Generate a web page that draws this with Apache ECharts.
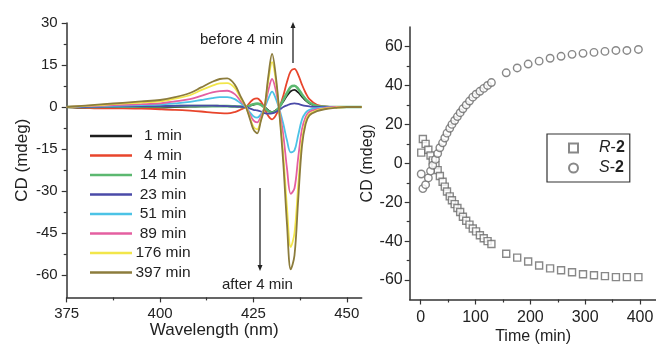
<!DOCTYPE html>
<html>
<head>
<meta charset="utf-8">
<script src="https://cdn.jsdelivr.net/npm/echarts@6/dist/echarts.min.js"></script>
<style>
html,body{margin:0;padding:0;background:#fff;}
#c{width:656px;height:345px;}
</style>
</head>
<body>
<div id="c"></div>
<script>
// ---------- Data: left panel (CD spectra) ----------
const wavelength = [375, 380, 385, 390, 395, 400, 404, 408, 411, 414, 416, 418, 420, 421.5, 423, 424, 425, 426, 427, 428, 429, 430, 431, 432, 433, 434, 435, 436, 437, 438, 439, 440, 442, 444, 447, 450, 454];
const cd1   = [0, -0.3, 0.2, -0.4, 0, -0.2, 0, 0.1, 0.2, 0.3, 0.3, 0.3, 0.2, 0.1, 0, 0.4, 0.8, 1.1, 1, 0, -1.2, -1.8, -1.2, 0, 2, 4, 5.6, 6.1, 5.2, 3.7, 2.3, 1.3, 0.3, 0.1, 0, 0, 0];
const cd4   = [0, -0.3, -0.5, -0.5, -0.6, -0.8, -1, -1.3, -1.6, -2, -2.2, -2.3, -1.8, -1, 0, 1.5, 2.8, 3.1, 2, -0.5, -3.2, -4.4, -3, 0, 4, 9, 12.8, 13.6, 11.5, 8, 5, 2.8, 0.8, 0.2, 0, 0, 0];
const cd14  = [0, 0, 0.1, 0.1, 0.2, 0.2, 0.3, 0.3, 0.3, 0.3, 0.3, 0.3, 0.2, 0.1, 0, 0.5, 1, 1.2, 0.8, -0.3, -1.5, -2, -1.4, 0, 2.5, 5, 7.2, 7.6, 6.5, 4.5, 2.8, 1.6, 0.4, 0.1, 0, 0, 0];
const cd23  = [0, 0, 0.1, 0.2, 0.3, 0.3, 0.4, 0.5, 0.5, 0.5, 0.4, 0.3, 0.2, 0.1, 0, -0.5, -1, -1.2, -1.6, -2.2, -2.4, -2.3, -1.8, -1, 0, 0.6, 1.1, 1.3, 1.1, 0.7, 0.4, 0.2, 0, 0, 0, 0, 0];
const cd51  = [0, 0.2, 0.3, 0.5, 0.7, 0.9, 1.3, 1.8, 2.5, 3.2, 3.5, 3.5, 2.8, 1.4, 0, -1.8, -3.3, -3.8, -2.6, -0.3, 3, 5.5, 3, -1, -6, -12, -16.2, -15.5, -10, -4.5, -2, -1, -0.4, -0.2, 0, 0, 0];
const cd89  = [0, 0.3, 0.5, 0.8, 1, 1.3, 2, 2.8, 4, 5.2, 5.7, 5.8, 4.6, 2.3, 0, -2.5, -4.8, -5.5, -3.5, 0, 6, 10, 6, -1.5, -10, -22, -31, -29, -18, -8, -3.5, -1.7, -0.8, -0.4, 0, 0, 0];
const cd176 = [0, 0.4, 0.8, 1.2, 1.6, 2, 3, 4.2, 6, 7.6, 8.4, 8.5, 6.8, 3.4, 0, -3.5, -7, -8, -4.5, 0, 9.5, 16, 9.5, -2.5, -17, -36, -50, -45, -28, -12, -5, -2.5, -1.2, -0.6, -0.2, 0, 0];
const cd397 = [0, 0.5, 1, 1.5, 2, 2.5, 3.5, 5, 7, 9, 10, 10.2, 8, 4, 0, -4, -8, -9.4, -5, 0, 11, 19, 11, -3, -20, -42, -58, -53, -33, -14, -6, -3, -1.5, -0.8, -0.3, 0, 0];
const spectraNames = ['1 min', '4 min', '14 min', '23 min', '51 min', '89 min', '176 min', '397 min'];

// ---------- Data: right panel (CD vs time) ----------
const timeMin = [1, 4, 9, 14, 18, 22, 27, 31, 35, 40, 44, 48, 53, 57, 62, 67, 72, 77, 83, 89, 95, 101, 108, 115, 122, 129, 156, 176, 196, 216, 236, 256, 276, 296, 316, 336, 356, 376, 397];
const cdR2 = [5.5, 12.5, 10, 7, 4, 1.5, -1, -3.5, -6.5, -9.5, -12, -14.5, -17, -19, -21, -23, -25, -27.5, -29.5, -31.5, -33.5, -35, -37, -38.5, -40, -41.5, -46.5, -48.5, -50.5, -52.5, -54, -55, -56, -57, -57.5, -58, -58.5, -58.5, -58.5];
const cdS2 = [-5.5, -13, -11, -7.5, -4, -1, 2, 5, 8, 10.5, 13, 15.5, 18, 20, 22, 24, 26, 28, 30, 32, 34, 35.5, 37, 38.5, 40, 41.5, 46.5, 49, 51, 52.5, 54, 55, 56, 56.5, 57, 57.5, 58, 58, 58.5];

// ---------- Tick values ----------
const leftXTicks = [375, 400, 425, 450];
const leftXMinor = [387.5, 412.5, 437.5];
const leftYTicks = [-60, -45, -30, -15, 0, 15, 30];
const leftYMinor = [-52.5, -37.5, -22.5, -7.5, 7.5, 22.5];
const rightXTicks = [0, 100, 200, 300, 400];
const rightXMinor = [50, 150, 250, 350];
const rightYTicks = [-60, -40, -20, 0, 20, 40, 60];
const rightYMinor = [-50, -30, -10, 10, 30, 50];

const colors = ['#1e1e1e', '#e8452c', '#5cb870', '#4a4aa8', '#4cc3e6', '#e45fa0', '#f2e64a', '#8c7c3c'];
const FONT = 'Liberation Sans, Arial, sans-serif';
const AX = '#333';

function spectraSeries(name, data, i) {
  return {
    name: name, type: 'line', xAxisIndex: 0, yAxisIndex: 0,
    data: wavelength.map((w, k) => [w, data[k]]),
    smooth: 0.35, symbol: 'none',
    lineStyle: { color: colors[i], width: i === 2 ? 2.6 : 1.8 },
    itemStyle: { color: colors[i] }, z: 2 + i
  };
}
const spectraData = [cd1, cd4, cd14, cd23, cd51, cd89, cd176, cd397];

function mainAxisCommon(fs) {
  return {
    nameMoveOverlap: false,
    axisLine: { onZero: false, lineStyle: { color: AX, width: 1.5 } },
    axisTick: { show: true, length: 5, inside: false, lineStyle: { color: AX, width: 1.2 } },
    axisLabel: { color: '#222', fontSize: fs, fontFamily: FONT },
    splitLine: { show: false },
    nameTextStyle: { color: '#222', fontFamily: FONT }
  };
}
function minorAxis(type, grid, min, max, vals, pos) {
  return {
    type: 'value', gridIndex: grid, min: min, max: max, position: pos,
    axisLine: { show: false, onZero: false },
    axisTick: { show: true, length: 3, customValues: vals, lineStyle: { color: AX, width: 1.2 } },
    axisLabel: { show: false }, splitLine: { show: false }
  };
}

const chart = echarts.init(document.getElementById('c'), null, { renderer: 'canvas' });
const xa0 = Object.assign(mainAxisCommon(15), {
  type: 'value', gridIndex: 0, min: 375, max: 454, position: 'bottom',
  name: 'Wavelength (nm)', nameLocation: 'middle', nameGap: 24
});
xa0.axisTick.customValues = leftXTicks; xa0.axisLabel.customValues = leftXTicks; xa0.axisLabel.margin = 9;
xa0.nameTextStyle.fontSize = 17;
const ya0 = Object.assign(mainAxisCommon(15), {
  type: 'value', gridIndex: 0, min: -68, max: 30, position: 'left',
  name: 'CD (mdeg)', nameLocation: 'middle', nameGap: 36
});
ya0.axisTick.customValues = leftYTicks; ya0.axisLabel.customValues = leftYTicks; ya0.axisLabel.margin = 9;
ya0.nameTextStyle.fontSize = 17;
const xa1 = Object.assign(mainAxisCommon(16), {
  type: 'value', gridIndex: 1, min: -20, max: 430, position: 'bottom',
  name: 'Time (min)', nameLocation: 'middle', nameGap: 29
});
xa1.axisTick.customValues = rightXTicks; xa1.axisLabel.customValues = rightXTicks; xa1.axisLabel.margin = 10;
xa1.nameTextStyle.fontSize = 16;
const ya1 = Object.assign(mainAxisCommon(16), {
  type: 'value', gridIndex: 1, min: -70, max: 70, position: 'left',
  name: 'CD (mdeg)', nameLocation: 'middle', nameGap: 34
});
ya1.axisTick.customValues = rightYTicks; ya1.axisLabel.customValues = rightYTicks; ya1.axisLabel.margin = 7;
ya1.nameTextStyle.fontSize = 16;

function arrow(x, y1, y2) {
  const dir = y2 < y1 ? -1 : 1;
  return [
    { type: 'line', shape: { x1: x, y1: y1, x2: x, y2: y2 - dir * 4 }, style: { stroke: '#222', lineWidth: 1.3 }, z: 100 },
    { type: 'polygon', shape: { points: [[x - 2.5, y2 - dir * 6], [x + 2.5, y2 - dir * 6], [x, y2]] }, style: { fill: '#222' }, z: 100 }
  ];
}

const option = {
  backgroundColor: '#fff',
  animation: false,
  grid: [
    { left: 66.7, top: 23, width: 295, height: 274.4, outerBoundsMode: 'none', containLabel: false },
    { left: 409.7, top: 27.1, width: 246.8, height: 272.4, outerBoundsMode: 'none', containLabel: false }
  ],
  xAxis: [xa0, xa1,
    minorAxis('x', 0, 375, 454, leftXMinor, 'bottom'),
    minorAxis('x', 1, -20, 430, rightXMinor, 'bottom')],
  yAxis: [ya0, ya1,
    minorAxis('y', 0, -68, 30, leftYMinor, 'left'),
    minorAxis('y', 1, -70, 70, rightYMinor, 'left')],
  legend: [
    {
      data: spectraNames, orient: 'vertical', left: 90, top: 128, padding: 0,
      itemWidth: 42, itemHeight: 2.5, icon: 'rect', itemGap: 3.5,
      formatter: n => '{t|' + n + '}',
      textStyle: { rich: { t: { width: 52, align: 'center', fontSize: 15.5, color: '#222', fontFamily: FONT } } }
    },
    {
      data: ['R-2', 'S-2'], orient: 'vertical', left: 547, top: 134,
      itemWidth: 9, itemHeight: 9, itemGap: 4,
      padding: [6, 5, 6, 21],
      borderColor: '#333', borderWidth: 1.2, backgroundColor: '#fff',
      formatter: n => '{i|' + n.split('-')[0] + '}{n|-}{b|' + n.split('-')[1] + '}',
      textStyle: {
        rich: {
          i: { fontStyle: 'italic', fontSize: 16, padding: [0, 0, 0, 16], color: '#222', fontFamily: FONT },
          n: { fontSize: 16, color: '#222', fontFamily: FONT },
          b: { fontWeight: 'bold', fontSize: 16, color: '#222', fontFamily: FONT }
        }
      }
    }
  ],
  series: spectraNames.map((n, i) => spectraSeries(n, spectraData[i], i)).concat([
    {
      name: 'R-2', type: 'scatter', xAxisIndex: 1, yAxisIndex: 1,
      data: timeMin.map((t, k) => [t, cdR2[k]]),
      symbol: 'rect', symbolSize: 7,
      itemStyle: { color: '#fff', borderColor: '#6a6a6a', borderWidth: 1.4 }
    },
    {
      name: 'S-2', type: 'scatter', xAxisIndex: 1, yAxisIndex: 1,
      data: timeMin.map((t, k) => [t, cdS2[k]]),
      symbol: 'circle', symbolSize: 7.5,
      itemStyle: { color: '#fff', borderColor: '#6a6a6a', borderWidth: 1.4 }
    }
  ]),
  graphic: [
    { type: 'text', left: 200, top: 32, style: { text: 'before 4 min', fontSize: 15, fontFamily: FONT, fill: '#222' }, z: 100 },
    { type: 'text', left: 222, top: 277, style: { text: 'after 4 min', fontSize: 15, fontFamily: FONT, fill: '#222' }, z: 100 }
  ].concat(arrow(293, 63, 22)).concat(arrow(260, 188, 271))
};
chart.setOption(option);
</script>
</body>
</html>
